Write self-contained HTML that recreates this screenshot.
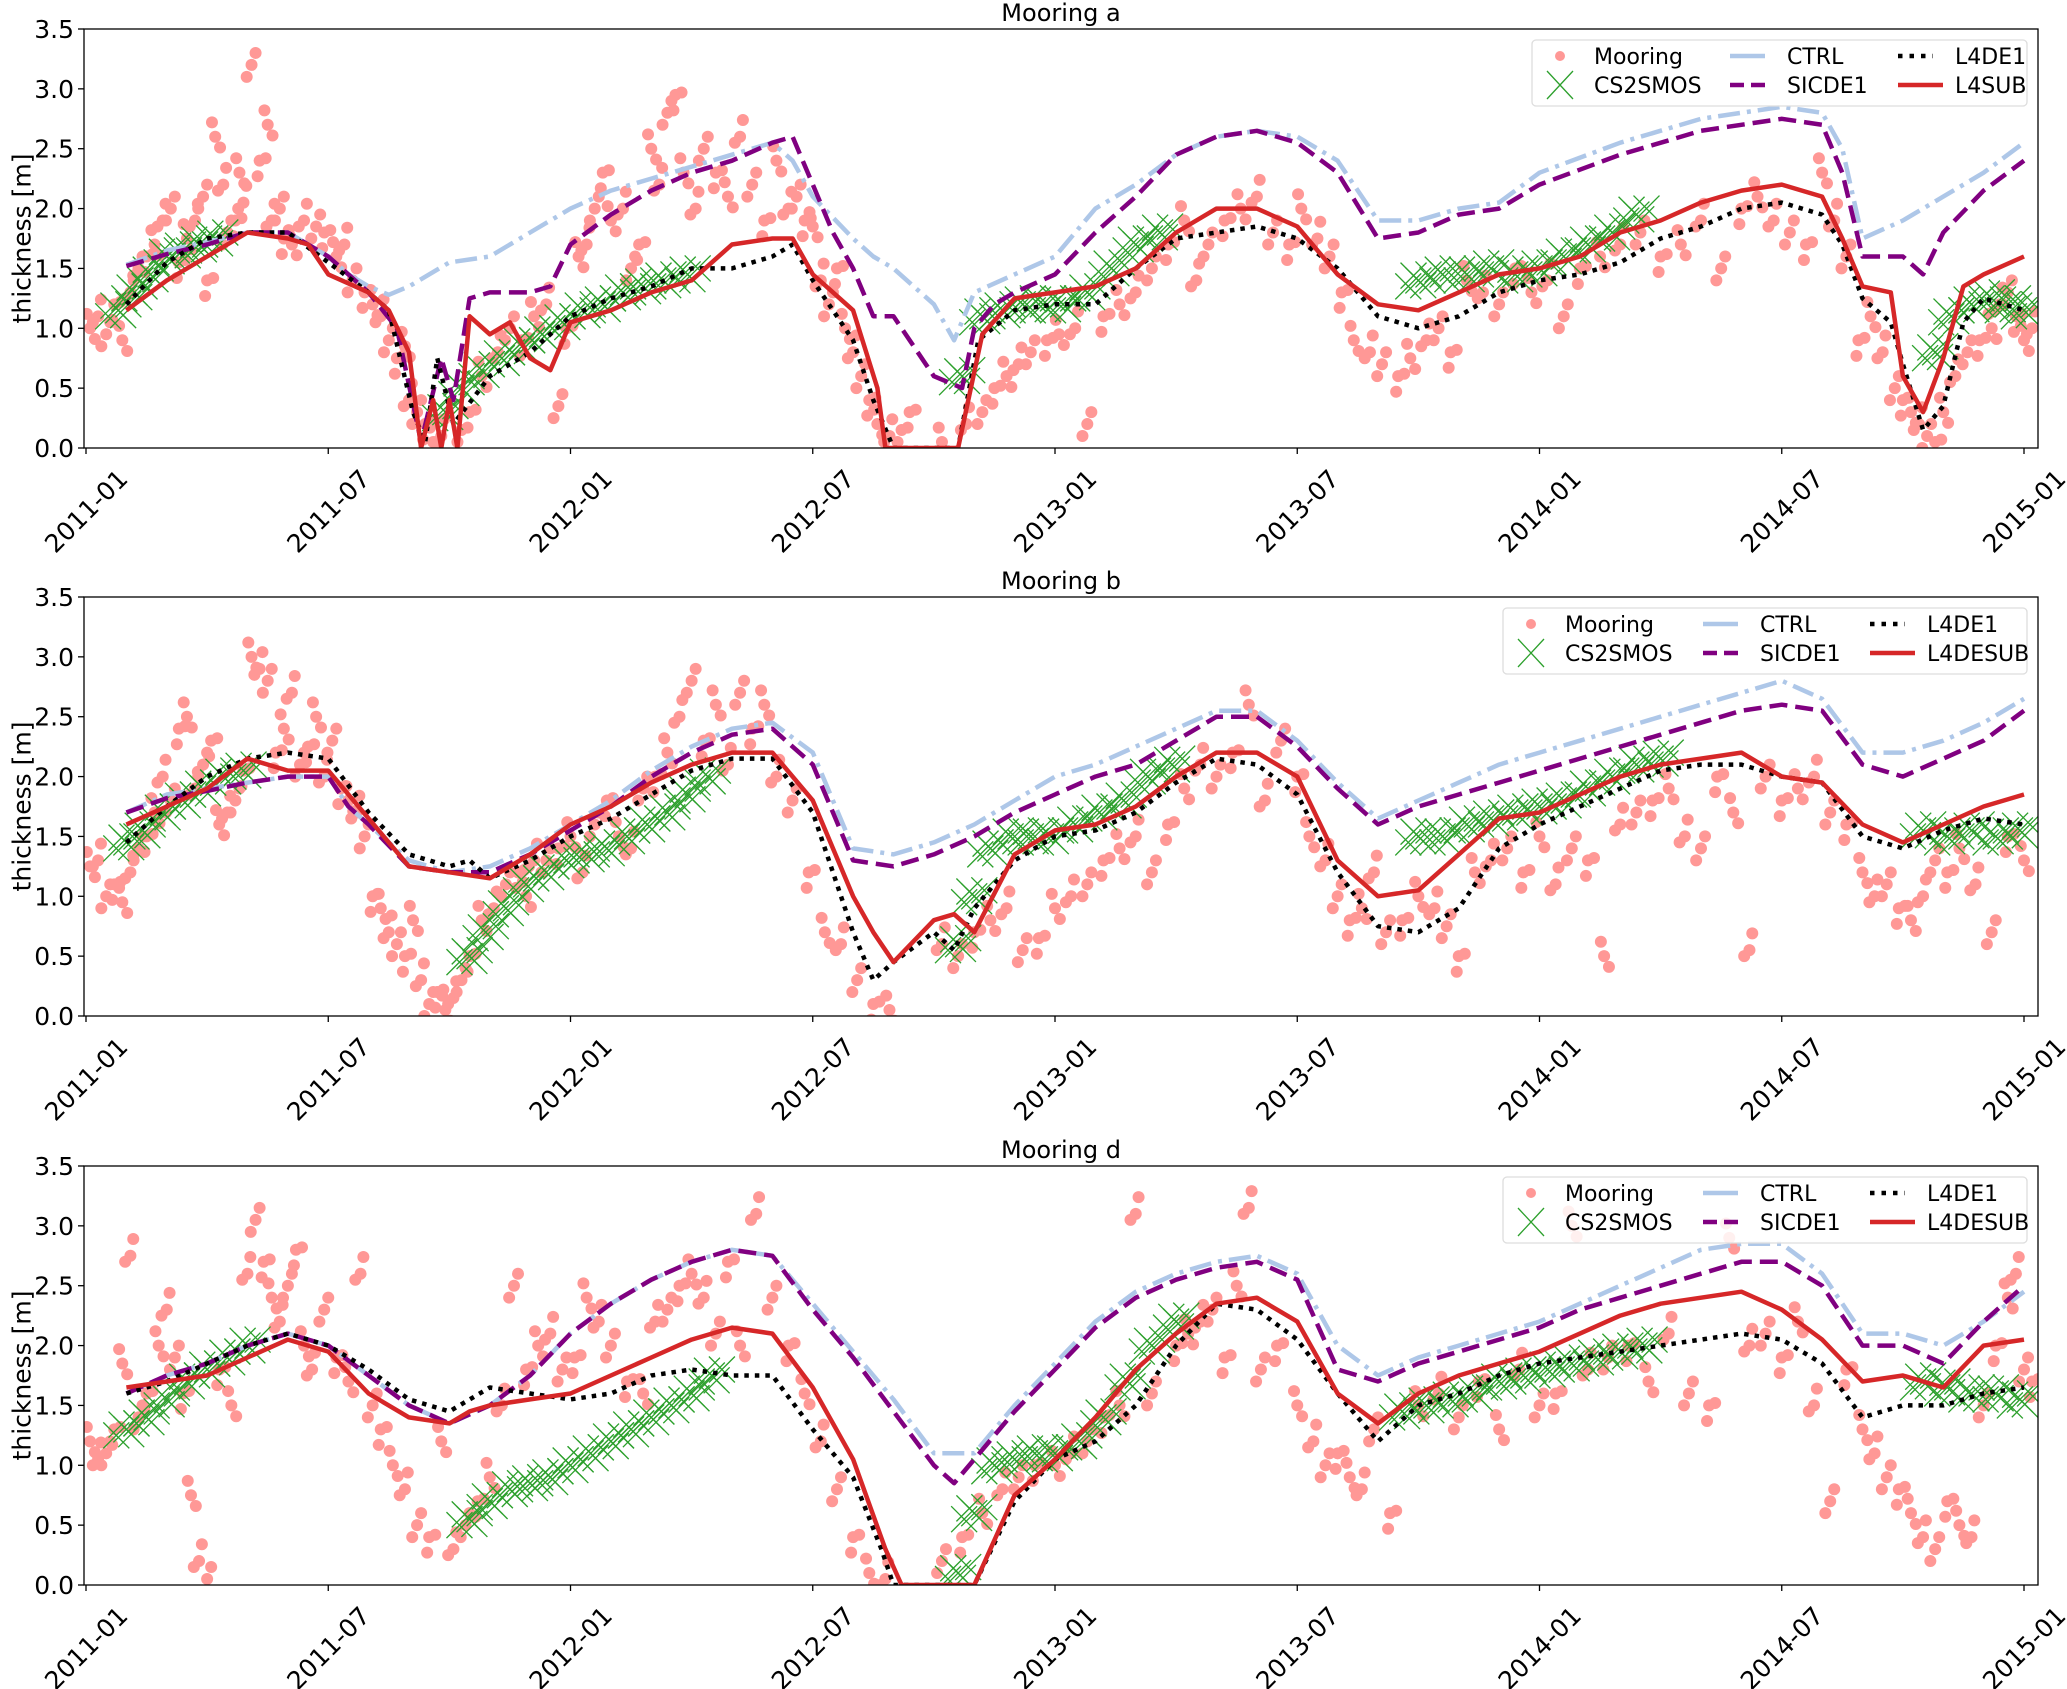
<!DOCTYPE html>
<html><head><meta charset="utf-8"><style>
html,body{margin:0;padding:0;background:#fff;}
svg{display:block;font-family:"DejaVu Sans","Liberation Sans",sans-serif;}
</style></head><body>
<svg id="fig" xmlns="http://www.w3.org/2000/svg" width="2067" height="1689" viewBox="0 0 2067 1689"></svg>
<script>
// ---- shared tick data ----
const xTickLabels = ["2011-01","2011-07","2012-01","2012-07","2013-01","2013-07","2014-01","2014-07","2015-01"];
const xTickMonths = [0,6,12,18,24,30,36,42,48];
const yTickValues = [0,0.5,1,1.5,2,2.5,3,3.5];
const yTickLabels = ["0.0","0.5","1.0","1.5","2.0","2.5","3.0","3.5"];

// ---- panel titles / legend last label ----
const panelTitles = ["Mooring a","Mooring b","Mooring d"];
const subLabels = ["L4SUB","L4DESUB","L4DESUB"];

// ---- Mooring a series [month, thickness] ----
const aCTRL = [[1,1.53],[2,1.65],[3,1.72],[4,1.8],[5,1.8],[6,1.6],[6.5,1.45],[7,1.35],[7.5,1.28],[8,1.35],[9,1.55],[10,1.6],[11,1.8],[12,2.0],[13,2.15],[14,2.25],[15,2.35],[16,2.45],[17,2.55],[17.5,2.4],[18,2.1],[19,1.75],[19.5,1.6],[20,1.5],[20.5,1.35],[21,1.2],[21.5,0.9],[22,1.3],[23,1.45],[24,1.6],[25,2.0],[26,2.2],[27,2.45],[28,2.6],[29,2.65],[30,2.6],[31,2.4],[32,1.9],[33,1.9],[34,2.0],[35,2.05],[36,2.3],[38,2.55],[40,2.75],[42,2.85],[43,2.8],[43.5,2.5],[44,1.75],[45,1.9],[46,2.1],[47,2.3],[48,2.55]];
const aSICDE1 = [[1,1.52],[2,1.62],[3,1.7],[4,1.8],[5,1.8],[6,1.6],[6.5,1.45],[7,1.3],[7.7,1.0],[8.3,0.05],[8.8,0.75],[9.1,0.4],[9.5,1.25],[10,1.3],[11,1.3],[11.5,1.35],[12,1.7],[13,1.95],[14,2.15],[15,2.3],[16,2.4],[17,2.55],[17.5,2.6],[18,2.2],[18.5,1.8],[19,1.5],[19.5,1.1],[20,1.1],[21,0.6],[21.7,0.5],[22,1.0],[22.5,1.2],[23,1.3],[24,1.45],[25,1.8],[26,2.1],[27,2.45],[28,2.6],[29,2.65],[30,2.55],[31,2.3],[32,1.75],[33,1.8],[34,1.95],[35,2.0],[36,2.2],[38,2.45],[40,2.65],[42,2.75],[43,2.7],[43.5,2.3],[44,1.6],[45,1.6],[45.5,1.45],[46,1.8],[47,2.15],[48,2.4]];
const aL4DE1 = [[1,1.2],[2,1.55],[3,1.75],[4,1.8],[5,1.8],[6,1.55],[7,1.3],[7.5,1.15],[8.1,0.3],[8.4,0.05],[8.7,0.75],[9.1,0.2],[10,0.6],[11,0.8],[12,1.1],[13,1.25],[14,1.35],[15,1.5],[16,1.5],[17,1.6],[17.5,1.7],[18,1.4],[19,0.9],[19.5,0.4],[20,0],[21.6,0],[22.1,0.9],[23,1.15],[24,1.2],[25,1.2],[26,1.5],[27,1.75],[28,1.8],[29,1.85],[30,1.75],[31,1.5],[32,1.1],[33,1.0],[34,1.1],[35,1.3],[36,1.4],[37,1.45],[38,1.55],[39,1.75],[40,1.85],[41,2.0],[42,2.05],[43,1.95],[43.5,1.7],[44,1.25],[44.7,1.05],[45,0.7],[45.5,0.15],[46,0.35],[46.5,1.05],[47,1.25],[48,1.15]];
const aSUB = [[1,1.15],[2,1.4],[3,1.6],[4,1.8],[5,1.75],[5.5,1.7],[6,1.45],[7,1.3],[7.5,1.15],[8,0.8],[8.3,0],[8.6,0.4],[8.8,0],[9.0,0.4],[9.2,0],[9.5,1.1],[10,0.95],[10.5,1.05],[11,0.75],[11.5,0.65],[12,1.05],[13,1.15],[14,1.3],[15,1.4],[16,1.7],[17,1.75],[17.5,1.75],[18,1.45],[19,1.15],[19.6,0.5],[19.8,0],[21.6,0],[22.2,0.95],[23,1.25],[24,1.3],[25,1.35],[26,1.5],[27,1.8],[28,2.0],[29,2.0],[30,1.85],[31,1.45],[32,1.2],[33,1.15],[34,1.3],[35,1.45],[36,1.5],[37,1.6],[38,1.8],[39,1.9],[40,2.05],[41,2.15],[42,2.2],[43,2.1],[43.5,1.75],[44,1.35],[44.7,1.3],[45,0.6],[45.5,0.3],[46,0.75],[46.5,1.35],[47,1.45],[48,1.6]];
const aCS2 = [[0.8,1.15],[1.2,1.3],[1.6,1.45],[2.0,1.6],[2.4,1.65],[2.8,1.7],[3.2,1.75],[8.9,0.3],[9.3,0.5],[9.8,0.65],[10.3,0.75],[10.8,0.85],[11.3,0.95],[11.8,1.05],[12.3,1.15],[12.8,1.2],[13.3,1.3],[13.8,1.35],[14.3,1.4],[14.9,1.45],[21.7,0.6],[22.2,1.1],[22.7,1.15],[23.2,1.2],[23.7,1.2],[24.2,1.2],[24.8,1.3],[25.4,1.5],[26.0,1.7],[26.6,1.8],[33,1.4],[33.6,1.45],[34.2,1.45],[34.8,1.5],[35.4,1.45],[36,1.5],[36.6,1.6],[37.2,1.7],[37.8,1.8],[38.4,1.95],[45.8,0.8],[46.2,1.1],[46.7,1.2],[47.2,1.25],[47.6,1.2],[48,1.15]];
const aMooring = [[0.1,1.0],[0.3,1.1],[0.5,0.95],[0.7,1.2],[0.9,0.9],[1.1,1.3],[1.3,1.5],[1.5,1.6],[1.7,1.7],[1.9,1.9],[2.1,2.0],[2.3,1.55],[2.5,1.75],[2.7,1.9],[2.9,2.1],[3.0,1.4],[3.2,2.6],[3.4,2.2],[3.5,1.8],[3.7,1.9],[3.8,2.3],[3.9,2.05],[4.1,3.2],[4.3,2.4],[4.5,2.7],[4.6,1.9],[4.8,2.0],[4.9,1.75],[5.1,1.7],[5.4,1.9],[5.7,1.85],[5.9,1.8],[6.2,1.6],[6.4,1.7],[6.6,1.4],[6.9,1.3],[7.1,1.2],[7.3,1.1],[7.5,0.9],[7.7,0.75],[7.9,0.85],[8.0,0.4],[8.2,0.3],[8.4,0.2],[8.6,0.05],[8.8,0.1],[9.2,0.05],[9.5,0.3],[9.8,0.6],[10.2,0.8],[10.5,1.0],[10.8,0.9],[11.1,1.1],[11.4,1.2],[11.7,0.35],[11.9,1.0],[12.2,1.6],[12.4,1.7],[12.6,2.0],[12.8,2.3],[13.0,1.9],[13.3,2.0],[13.5,1.5],[13.7,1.7],[14.0,2.5],[14.2,2.2],[14.4,2.8],[14.6,2.95],[14.8,2.3],[15.1,2.0],[15.3,2.5],[15.6,2.3],[15.9,2.1],[16.2,2.6],[16.5,2.2],[16.8,1.9],[17.1,2.4],[17.4,2.0],[17.6,2.1],[17.8,1.9],[18.0,1.85],[18.2,1.4],[18.4,1.2],[18.6,1.5],[18.8,1.0],[19.0,0.8],[19.2,0.6],[19.4,0.4],[19.6,0.2],[19.9,0.1],[20.1,0.05],[20.4,0.3],[21.2,0.05],[21.8,0.2],[22.2,0.3],[22.5,0.5],[22.8,0.6],[23.1,0.7],[23.4,0.8],[23.8,0.9],[24.1,0.95],[24.5,1.0],[24.8,0.2],[25.2,1.1],[25.6,1.2],[26.0,1.3],[26.4,1.5],[26.8,1.7],[27.2,1.9],[27.5,1.4],[27.8,1.7],[28.2,1.9],[28.6,2.0],[29.0,2.1],[29.4,1.8],[29.8,1.7],[30.1,2.0],[30.5,1.75],[30.8,1.6],[31.1,1.3],[31.4,0.9],[31.8,0.8],[32.1,0.7],[32.5,0.6],[32.8,0.75],[33.2,0.9],[33.5,1.0],[33.8,0.8],[34.2,1.4],[34.6,1.3],[35.0,1.2],[35.4,1.5],[35.8,1.3],[36.2,1.4],[36.6,1.1],[37.0,1.5],[37.5,1.6],[38.0,1.7],[38.5,1.8],[39.0,1.6],[39.5,1.7],[40.0,1.9],[40.5,1.5],[41.0,2.0],[41.4,2.1],[41.8,1.9],[42.2,1.8],[42.6,1.7],[43.0,2.3],[43.3,1.9],[43.6,1.6],[43.9,0.9],[44.2,1.1],[44.5,0.8],[44.8,0.5],[45.0,0.4],[45.2,0.3],[45.4,0.2],[45.6,0.1],[45.8,0.05],[46.0,0.3],[46.3,0.6],[46.6,0.8],[46.9,0.9],[47.2,1.0],[47.4,1.2],[47.6,1.3],[47.8,1.1],[48.0,0.9],[48.2,1.0]];

// ---- Mooring b series ----
const bCTRL = [[1,1.7],[2,1.85],[3,1.9],[4,1.95],[5,2.0],[6,2.0],[6.5,1.75],[7,1.6],[8,1.3],[9,1.2],[10,1.25],[11,1.4],[12,1.6],[13,1.8],[14,2.05],[15,2.25],[16,2.4],[17,2.45],[18,2.2],[19,1.4],[20,1.35],[21,1.45],[22,1.6],[23,1.8],[24,2.0],[25,2.1],[26,2.25],[27,2.4],[28,2.55],[29,2.55],[30,2.3],[31,1.95],[32,1.65],[33,1.8],[34,1.95],[35,2.1],[36,2.2],[37,2.3],[38,2.4],[39,2.5],[40,2.6],[41,2.7],[42,2.8],[43,2.65],[44,2.2],[45,2.2],[46,2.3],[47,2.45],[48,2.65]];
const bSICDE1 = [[1,1.7],[2,1.82],[3,1.88],[4,1.95],[5,2.0],[6,2.0],[6.5,1.75],[7,1.6],[8,1.25],[9,1.2],[10,1.2],[11,1.35],[12,1.55],[13,1.75],[14,2.0],[15,2.2],[16,2.35],[17,2.4],[18,2.1],[19,1.3],[20,1.25],[21,1.35],[22,1.5],[23,1.7],[24,1.85],[25,2.0],[26,2.1],[27,2.3],[28,2.5],[29,2.5],[30,2.25],[31,1.9],[32,1.6],[33,1.75],[34,1.85],[35,1.95],[36,2.05],[37,2.15],[38,2.25],[39,2.35],[40,2.45],[41,2.55],[42,2.6],[43,2.55],[44,2.1],[45,2.0],[46,2.15],[47,2.3],[48,2.55]];
const bL4DE1 = [[1,1.45],[2,1.75],[3,2.0],[4,2.15],[5,2.2],[6,2.15],[7,1.7],[8,1.35],[9,1.25],[9.5,1.3],[10,1.15],[11,1.3],[12,1.5],[13,1.65],[14,1.85],[15,2.05],[16,2.15],[17,2.15],[18,1.7],[19,0.7],[19.5,0.3],[20,0.45],[21,0.7],[21.5,0.55],[22,0.9],[23,1.3],[24,1.5],[25,1.55],[26,1.7],[27,1.95],[28,2.15],[29,2.1],[30,1.85],[31,1.2],[32,0.75],[33,0.7],[34,0.9],[35,1.4],[36,1.6],[37,1.75],[38,1.9],[39,2.05],[40,2.1],[41,2.1],[42,2.0],[43,1.95],[44,1.5],[45,1.4],[46,1.55],[47,1.65],[48,1.6]];
const bSUB = [[1,1.6],[2,1.75],[3,1.9],[4,2.15],[5,2.05],[6,2.05],[7,1.65],[8,1.25],[9,1.2],[10,1.15],[11,1.35],[12,1.6],[13,1.75],[14,1.95],[15,2.1],[16,2.2],[17,2.2],[18,1.8],[19,1.0],[19.5,0.7],[20,0.45],[21,0.8],[21.5,0.85],[22,0.7],[23,1.35],[24,1.55],[25,1.6],[26,1.75],[27,2.0],[28,2.2],[29,2.2],[30,2.0],[31,1.3],[32,1.0],[33,1.05],[34,1.35],[35,1.65],[36,1.7],[37,1.85],[38,2.0],[39,2.1],[40,2.15],[41,2.2],[42,2.0],[43,1.95],[44,1.6],[45,1.45],[46,1.6],[47,1.75],[48,1.85]];
const bCS2 = [[1,1.45],[1.4,1.55],[1.9,1.7],[2.4,1.8],[2.9,1.9],[3.4,2.0],[3.9,2.05],[9.5,0.5],[9.9,0.7],[10.4,0.9],[10.9,1.1],[11.4,1.2],[11.9,1.3],[12.4,1.35],[12.9,1.4],[13.4,1.5],[13.9,1.6],[14.4,1.7],[14.9,1.85],[15.4,2.0],[21.6,0.6],[22.0,1.0],[22.4,1.4],[22.9,1.5],[23.4,1.5],[23.9,1.5],[24.5,1.6],[25.1,1.7],[25.7,1.8],[26.3,2.0],[26.9,2.1],[33,1.5],[33.6,1.5],[34.2,1.6],[34.8,1.65],[35.4,1.7],[36,1.75],[36.6,1.8],[37.2,1.9],[37.8,2.0],[38.4,2.1],[39,2.15],[45.5,1.55],[46.1,1.5],[46.7,1.55],[47.3,1.5],[47.9,1.55]];
const bMooring = [[0.1,1.25],[0.3,1.3],[0.5,1.0],[0.7,1.1],[0.9,0.95],[1.1,1.2],[1.3,1.4],[1.5,1.5],[1.7,1.7],[1.9,2.0],[2.1,1.8],[2.3,2.4],[2.5,2.5],[2.7,1.9],[2.9,2.1],[3.1,2.3],[3.3,1.6],[3.5,1.7],[3.7,1.8],[3.9,2.05],[4.1,3.0],[4.3,2.9],[4.5,2.8],[4.7,2.2],[4.9,2.4],[5.1,2.7],[5.3,2.1],[5.5,2.25],[5.7,2.5],[5.9,2.0],[6.1,2.3],[6.3,1.9],[6.5,1.8],[6.7,1.7],[6.9,1.5],[7.1,1.0],[7.3,0.9],[7.5,0.7],[7.7,0.6],[7.9,0.5],[8.1,0.8],[8.3,0.3],[8.5,0.1],[8.7,0.2],[8.9,0.05],[9.1,0.15],[9.3,0.3],[9.5,0.5],[9.8,0.8],[10.1,0.9],[10.4,1.1],[10.7,1.2],[10.9,1.0],[11.1,1.3],[11.4,1.3],[11.7,1.4],[12.0,1.5],[12.3,1.2],[12.6,1.6],[12.9,1.8],[13.2,1.5],[13.5,1.4],[13.8,1.9],[14.1,2.0],[14.4,2.2],[14.7,2.5],[15.0,2.8],[15.3,2.3],[15.6,2.6],[15.9,2.1],[16.2,2.7],[16.5,2.4],[16.8,2.6],[17.1,2.0],[17.5,1.8],[17.9,1.2],[18.3,0.7],[18.7,0.6],[19.1,0.3],[19.5,0.1],[19.9,0.05],[21.2,0.6],[21.6,0.5],[22.0,0.7],[22.4,0.8],[22.8,0.9],[23.2,0.55],[23.6,0.65],[24.0,0.9],[24.4,1.0],[24.8,1.1],[25.2,1.3],[25.6,1.4],[26.0,1.5],[26.4,1.2],[26.8,1.6],[27.2,1.9],[27.6,2.1],[28.0,2.0],[28.4,2.2],[28.8,2.6],[29.2,1.8],[29.6,2.3],[30.0,2.0],[30.3,1.5],[30.7,1.3],[31.0,1.0],[31.3,0.8],[31.6,0.9],[31.9,1.2],[32.2,0.7],[32.6,0.8],[33.0,1.0],[33.4,0.9],[33.7,0.75],[34.0,0.5],[34.4,1.2],[34.8,1.3],[35.2,1.4],[35.6,1.2],[36.0,1.5],[36.4,1.1],[36.8,1.4],[37.2,1.3],[37.6,0.5],[38.0,1.6],[38.4,1.7],[38.8,1.8],[39.2,1.9],[39.6,1.5],[40.0,1.4],[40.4,2.0],[40.8,1.7],[41.2,0.55],[41.6,2.0],[42.0,1.8],[42.4,1.9],[42.8,2.0],[43.2,1.7],[43.6,1.6],[44.0,1.2],[44.3,1.0],[44.6,1.1],[44.9,0.9],[45.2,0.8],[45.5,1.0],[45.8,1.3],[46.1,1.2],[46.4,1.4],[46.8,1.1],[47.2,0.7],[47.6,1.5],[48.0,1.3]];

// ---- Mooring d series ----
const dCTRL = [[1,1.6],[2,1.75],[3,1.85],[4,2.0],[5,2.1],[6,2.0],[7,1.75],[8,1.5],[9,1.35],[10,1.5],[11,1.75],[12,2.1],[13,2.35],[14,2.55],[15,2.7],[16,2.8],[17,2.75],[18,2.35],[19,1.95],[20,1.55],[21,1.1],[22,1.1],[23,1.5],[24,1.85],[25,2.2],[26,2.45],[27,2.6],[28,2.7],[29,2.75],[30,2.6],[31,2.0],[32,1.75],[33,1.9],[34,2.0],[35,2.1],[36,2.2],[37,2.35],[38,2.5],[39,2.65],[40,2.8],[41,2.85],[42,2.85],[43,2.6],[44,2.1],[45,2.1],[46,2.0],[47,2.2],[48,2.45]];
const dSICDE1 = [[1,1.6],[2,1.75],[3,1.85],[4,2.0],[5,2.1],[6,2.0],[7,1.75],[8,1.5],[9,1.35],[10,1.5],[11,1.75],[12,2.1],[13,2.35],[14,2.55],[15,2.7],[16,2.8],[17,2.75],[18,2.3],[19,1.9],[20,1.45],[21,1.0],[21.5,0.85],[22,1.05],[23,1.45],[24,1.8],[25,2.15],[26,2.4],[27,2.55],[28,2.65],[29,2.7],[30,2.55],[31,1.8],[32,1.7],[33,1.85],[34,1.95],[35,2.05],[36,2.15],[37,2.3],[38,2.4],[39,2.5],[40,2.6],[41,2.7],[42,2.7],[43,2.5],[44,2.0],[45,2.0],[46,1.85],[47,2.2],[48,2.5]];
const dL4DE1 = [[1,1.6],[2,1.7],[3,1.85],[4,2.0],[5,2.1],[6,2.0],[7,1.8],[8,1.55],[9,1.45],[10,1.65],[11,1.6],[12,1.55],[13,1.6],[14,1.75],[15,1.8],[16,1.75],[17,1.75],[18,1.3],[19,0.9],[19.7,0.3],[20.0,0],[22,0],[23,0.7],[24,1.05],[25,1.2],[26,1.5],[27,2.0],[28,2.35],[29,2.3],[30,2.05],[31,1.6],[32,1.2],[33,1.5],[34,1.6],[35,1.75],[36,1.85],[37,1.9],[38,1.95],[39,2.0],[40,2.05],[41,2.1],[42,2.05],[43,1.85],[44,1.4],[45,1.5],[46,1.5],[47,1.6],[48,1.65]];
const dSUB = [[1,1.65],[2,1.7],[3,1.75],[4,1.9],[5,2.05],[6,1.95],[7,1.6],[8,1.4],[9,1.35],[9.5,1.45],[10,1.5],[11,1.55],[12,1.6],[13,1.75],[14,1.9],[15,2.05],[16,2.15],[17,2.1],[18,1.65],[19,1.05],[19.8,0.3],[20.2,0],[22,0],[23,0.75],[24,1.05],[25,1.4],[26,1.8],[27,2.1],[28,2.35],[29,2.4],[30,2.2],[31,1.6],[32,1.35],[33,1.6],[34,1.75],[35,1.85],[36,1.95],[37,2.1],[38,2.25],[39,2.35],[40,2.4],[41,2.45],[42,2.3],[43,2.05],[44,1.7],[45,1.75],[46,1.65],[47,2.0],[48,2.05]];
const dCS2 = [[1,1.3],[1.5,1.4],[2,1.55],[2.5,1.7],[3,1.8],[3.5,1.9],[4,2.0],[9.5,0.55],[10,0.7],[10.5,0.8],[11,0.85],[11.5,0.9],[12,1.0],[12.5,1.1],[13,1.2],[13.5,1.3],[14,1.4],[14.5,1.5],[15,1.6],[15.5,1.75],[21.6,0.1],[22,0.6],[22.5,1.0],[23,1.05],[23.5,1.1],[24,1.1],[24.6,1.2],[25.2,1.4],[25.8,1.7],[26.4,2.0],[27,2.2],[32.6,1.45],[33.2,1.5],[33.8,1.55],[34.4,1.6],[35,1.7],[35.6,1.75],[36.2,1.8],[36.8,1.85],[37.4,1.9],[38,1.95],[38.6,2.0],[45.5,1.7],[46.1,1.65],[46.7,1.6],[47.3,1.6],[47.9,1.55]];
const dMooring = [[0.1,1.2],[0.3,1.05],[0.5,1.1],[0.7,1.3],[0.9,1.85],[1.1,2.75],[1.3,1.4],[1.5,1.6],[1.8,2.0],[2.0,2.3],[2.2,1.9],[2.4,1.6],[2.6,0.75],[2.8,0.2],[3.0,0.05],[3.3,1.8],[3.6,1.5],[4.0,2.6],[4.2,3.05],[4.4,2.7],[4.6,2.4],[4.8,2.2],[5.0,2.5],[5.2,2.8],[5.4,2.0],[5.6,1.8],[5.9,2.3],[6.2,1.9],[6.5,1.7],[6.8,2.6],[7.1,1.5],[7.3,1.3],[7.6,1.0],[7.9,0.8],[8.2,0.5],[8.5,0.4],[8.8,1.2],[9.1,0.3],[9.4,0.5],[9.7,0.7],[10.0,0.9],[10.3,1.5],[10.6,2.5],[10.9,1.8],[11.2,2.0],[11.5,2.1],[11.8,1.8],[12.1,1.9],[12.4,2.4],[12.7,2.2],[13.0,2.0],[13.4,1.7],[13.8,1.6],[14.1,2.2],[14.4,2.3],[14.7,2.5],[15.0,2.6],[15.3,2.4],[15.6,2.1],[15.9,2.7],[16.2,2.0],[16.6,3.1],[17.0,2.4],[17.4,2.0],[17.8,1.6],[18.2,1.2],[18.6,0.8],[19.0,0.4],[19.4,0.1],[19.8,0.05],[21.2,0.2],[21.7,0.4],[22.2,0.6],[22.7,0.8],[23.1,0.9],[23.5,1.0],[24.0,1.0],[24.4,1.1],[24.8,1.2],[25.2,1.4],[25.6,1.5],[26.0,3.1],[26.4,1.6],[27.0,2.0],[27.3,2.1],[27.6,2.2],[27.9,2.3],[28.2,1.9],[28.5,2.5],[28.8,3.15],[29.1,1.8],[29.5,2.0],[30.0,1.5],[30.4,1.2],[30.7,1.0],[31.0,1.1],[31.3,0.9],[31.6,0.8],[31.9,1.3],[32.3,0.6],[33.0,1.5],[33.5,1.6],[34.0,1.4],[34.5,1.7],[35.0,1.3],[35.5,1.8],[36.0,1.5],[36.4,1.6],[36.8,3.0],[37.2,1.8],[37.7,1.9],[38.2,2.0],[38.7,1.7],[39.2,2.1],[39.7,1.6],[40.2,1.5],[40.7,2.9],[41.2,2.0],[41.6,2.1],[42.0,1.9],[42.4,2.2],[42.8,1.5],[43.2,0.7],[43.6,1.8],[44.0,1.3],[44.3,1.1],[44.6,0.9],[44.9,0.8],[45.2,0.6],[45.5,0.4],[45.8,0.3],[46.1,0.7],[46.4,0.5],[46.7,0.4],[47.0,1.5],[47.3,2.0],[47.6,2.4],[47.8,2.6],[48.0,1.8],[48.2,1.7]];

const panelData = [
 {m:aMooring,cs:aCS2,ctrl:aCTRL,sic:aSICDE1,de:aL4DE1,sub:aSUB},
 {m:bMooring,cs:bCS2,ctrl:bCTRL,sic:bSICDE1,de:bL4DE1,sub:bSUB},
 {m:dMooring,cs:dCS2,ctrl:dCTRL,sic:dSICDE1,de:dL4DE1,sub:dSUB}
];

const NS = "http://www.w3.org/2000/svg";
const svg = document.getElementById('fig');
function mk(tag, attrs, parent){
  const e = document.createElementNS(NS, tag);
  for (const k in attrs) e.setAttribute(k, attrs[k]);
  parent.appendChild(e);
  return e;
}
const L = 84, R = 2038, X0 = 86, X48 = 2024;
const tops = [29, 597, 1166], bots = [448, 1016, 1585];
const xs = m => X0 + m * (X48 - X0) / 48;
// marker rendering offsets (visual clustering only), varied per point
const dotOffsetSets = [
  [[0,0],[0.12,-0.09],[-0.08,0.12]],
  [[0,0],[-0.13,-0.05],[0.07,0.14]],
  [[0,0],[0.1,0.1],[-0.12,-0.1]],
  [[0,0],[0.15,0.02],[-0.05,-0.13]]
];
const crossOffsets = [[-0.25,-0.05],[-0.12,0.04],[0,0],[0.12,-0.04],[0.25,0.05]];

panelData.forEach((pd, i) => {
  const T = tops[i], B = bots[i];
  const ys = v => B - v * (B - T) / 3.5;
  const g = mk('g', {}, svg);
  
  
  const cid = 'clip' + i;
  const cp = mk('clipPath', {id: cid}, g);
  mk('rect', {x: L, y: T - 4, width: R - L, height: B - T + 4}, cp);
  const plot = mk('g', {'clip-path': 'url(#' + cid + ')'}, g);

  const sg = mk('g', {fill: '#ff9896'}, plot);
  
  
  pd.m.forEach((p, j) => {
    dotOffsetSets[j % 4].forEach(o => {
      const c = mk('circle', {cx: xs(p[0] + o[0]), cy: ys(p[1] + o[1]), r: 6}, sg);
      
      
    });
  });
  const cg = mk('g', {stroke: '#2ca02c', 'stroke-width': 1.3, fill: 'none'}, plot);
  
  
  const s = 13;
  pd.cs.forEach(p => {
    crossOffsets.forEach(o => {
      const cx = xs(p[0] + o[0]), cy = ys(p[1] + o[1]);
      const path = mk('path', {d: `M${cx-s},${cy-s}L${cx+s},${cy+s}M${cx-s},${cy+s}L${cx+s},${cy-s}`}, cg);
      
      
    });
  });
  function line(arr, style, name){
    const d = arr.map((p, j) => (j ? 'L' : 'M') + xs(p[0]).toFixed(1) + ',' + ys(p[1]).toFixed(1)).join('');
    const e = mk('path', Object.assign({d: d, fill: 'none', 'stroke-linejoin': 'round'}, style), plot);
    
    
  }
  line(pd.ctrl, {stroke: '#aec7e8', 'stroke-width': 4.5, 'stroke-dasharray': '22,7,4,7'}, 'ctrl-line');
  line(pd.sic, {stroke: '#800080', 'stroke-width': 4.5, 'stroke-dasharray': '18,8'}, 'sicde1-line');
  line(pd.de, {stroke: '#000', 'stroke-width': 4.5, 'stroke-dasharray': '4.5,6'}, 'l4de1-line');
  line(pd.sub, {stroke: '#d62728', 'stroke-width': 4.5}, 'l4sub-line');

  const fr = mk('rect', {x: L, y: T, width: R - L, height: B - T, fill: 'none', stroke: '#000', 'stroke-width': 1.3}, g);
  
  
  yTickValues.forEach((v, j) => {
    mk('line', {x1: L - 6, x2: L, y1: ys(v), y2: ys(v), stroke: '#000', 'stroke-width': 1.3}, g);
    const t = mk('text', {x: L - 10, y: ys(v) + 9, 'text-anchor': 'end', 'font-size': 25}, g);
    t.textContent = yTickLabels[j];
    
    
  });
  xTickMonths.forEach((m, j) => {
    const x = xs(m);
    mk('line', {x1: x, x2: x, y1: B, y2: B + 6, stroke: '#000', 'stroke-width': 1.3}, g);
    const cy = B + 63;
    const t = mk('text', {x: x, y: cy + 9, 'text-anchor': 'middle', 'font-size': 25, transform: `rotate(-45 ${x} ${cy})`}, g);
    t.textContent = xTickLabels[j];
    
    
  });
  const yc = (T + B) / 2;
  const yt = mk('text', {x: 22, y: yc, 'text-anchor': 'middle', 'font-size': 25, transform: `rotate(-90 22 ${yc})`, 'dominant-baseline': 'central'}, g);
  yt.textContent = 'thickness [m]';
  
  
  const tt = mk('text', {x: (L + R) / 2, y: T - 8, 'text-anchor': 'middle', 'font-size': 24}, g);
  tt.textContent = panelTitles[i];
  
  

  const lg = mk('g', {}, g);
  
  
  const lx = i === 0 ? 1532 : 1503, ly = T + 11;
  mk('rect', {x: lx, y: ly, width: 2027 - lx, height: 66, rx: 4, fill: '#fff', 'fill-opacity': 0.85, stroke: '#ddd', 'stroke-width': 1.3}, lg);
  const c1 = lx + 28, t1 = lx + 62, c2 = i === 0 ? 1730 : 1703, t2 = c2 + 57, c3 = i === 0 ? 1898 : 1870, t3 = c3 + 57;
  const r1 = ly + 16, r2 = ly + 45;
  mk('circle', {cx: c1, cy: r1, r: 5, fill: '#ff9896'}, lg);
  mk('path', {d: `M${c1-13},${r2-14}L${c1+13},${r2+14}M${c1-13},${r2+14}L${c1+13},${r2-14}`, stroke: '#2ca02c', 'stroke-width': 1.3}, lg);
  mk('line', {x1: c2, x2: c2 + 35, y1: r1, y2: r1, stroke: '#aec7e8', 'stroke-width': 4.5}, lg);
  mk('line', {x1: c2, x2: c2 + 35, y1: r2, y2: r2, stroke: '#800080', 'stroke-width': 4.5, 'stroke-dasharray': '14,7'}, lg);
  mk('line', {x1: c3, x2: c3 + 35, y1: r1, y2: r1, stroke: '#000', 'stroke-width': 4.5, 'stroke-dasharray': '4.5,7'}, lg);
  mk('line', {x1: c3, x2: c3 + 45, y1: r2, y2: r2, stroke: '#d62728', 'stroke-width': 4.5}, lg);
  const labs = [[t1, r1, 'Mooring'], [t1, r2, 'CS2SMOS'], [t2, r1, 'CTRL'], [t2, r2, 'SICDE1'], [t3, r1, 'L4DE1'], [t3, r2, subLabels[i]]];
  labs.forEach(q => {
    const t = mk('text', {x: q[0], y: q[1] + 8, 'font-size': 22}, lg);
    t.textContent = q[2];
    
    
  });
});
</script>
</body></html>
